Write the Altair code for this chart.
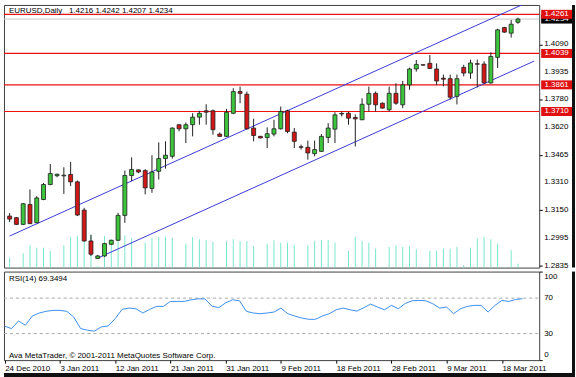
import altair as alt
import pandas as pd

# ---------------- data ----------------
opens = [1.3117,1.3108,1.3070,1.3183,1.3079,1.3211,1.3296,1.3346,1.3345,1.3353,
         1.3311,1.3151,1.2976,1.2877,1.2891,1.2957,1.2980,1.3121,1.3347,1.3379,
         1.3375,1.3274,1.3371,1.3443,1.3456,1.3635,1.3612,1.3635,1.3678,1.3714,
         1.3714,1.3582,1.3569,1.3700,1.3823,1.3808,1.3616,1.3569,1.3563,1.3582,
         1.3612,1.3714,1.3593,1.3510,1.3507,1.3471,1.3484,1.3563,1.3610,1.3699,
         1.3700,1.3676,1.3663,1.3751,1.3813,1.3757,1.3720,1.3813,1.3748,1.3861,
         1.3951,1.3975,1.3983,1.3951,1.3899,1.3896,1.3796,1.3960,1.3928,1.3981,
         1.3979,1.3872,1.4017,1.4186,1.4154,1.4216]
highs = [1.3134,1.3112,1.3191,1.3268,1.3230,1.3305,1.3412,1.3358,1.3394,1.3424,
         1.3319,1.3164,1.3010,1.2897,1.2965,1.2982,1.3136,1.3375,1.3450,1.3381,
         1.3383,1.3462,1.3535,1.3541,1.3620,1.3637,1.3648,1.3700,1.3714,1.3751,
         1.3721,1.3591,1.3725,1.3842,1.3851,1.3823,1.3669,1.3572,1.3620,1.3663,
         1.3738,1.3720,1.3616,1.3522,1.3545,1.3545,1.3582,1.3644,1.3706,1.3710,
         1.3707,1.3693,1.3785,1.3851,1.3823,1.3761,1.3851,1.3870,1.3883,1.3958,
         1.4002,1.3978,1.4030,1.3983,1.3919,1.3919,1.3919,1.3975,1.4004,1.4004,
         1.3994,1.4045,1.4179,1.4190,1.4229,1.4242]
lows = [1.3083,1.3066,1.3066,1.3072,1.3078,1.3207,1.3292,1.3337,1.3243,1.3287,
        1.3117,1.2972,1.2891,1.2874,1.2886,1.2953,1.2976,1.3079,1.3315,1.3360,
        1.3240,1.3249,1.3324,1.3386,1.3443,1.3597,1.3531,1.3569,1.3635,1.3635,
        1.3578,1.3566,1.3566,1.3695,1.3757,1.3608,1.3541,1.3558,1.3503,1.3569,
        1.3608,1.3587,1.3503,1.3494,1.3437,1.3456,1.3481,1.3531,1.3531,1.3682,
        1.3635,1.3512,1.3662,1.3710,1.3710,1.3727,1.3710,1.3748,1.3729,1.3833,
        1.3936,1.3970,1.3953,1.3861,1.3853,1.3778,1.3750,1.3909,1.3896,1.3847,
        1.3868,1.3868,1.3957,1.4156,1.4129,1.4207]
closes = [1.3100,1.3070,1.3187,1.3074,1.3220,1.3296,1.3358,1.3354,1.3349,1.3311,
          1.3123,1.2976,1.2901,1.2891,1.2961,1.2980,1.3121,1.3347,1.3381,1.3367,
          1.3277,1.3367,1.3443,1.3462,1.3616,1.3612,1.3635,1.3678,1.3700,1.3706,
          1.3607,1.3569,1.3706,1.3823,1.3813,1.3612,1.3574,1.3560,1.3584,1.3612,
          1.3710,1.3597,1.3541,1.3507,1.3475,1.3494,1.3569,1.3616,1.3691,1.3696,
          1.3672,1.3668,1.3751,1.3813,1.3748,1.3729,1.3813,1.3757,1.3861,1.3951,
          1.3977,1.3973,1.3954,1.3883,1.3893,1.3791,1.3896,1.3928,1.3985,1.3978,
          1.3872,1.4022,1.4173,1.4160,1.4205,1.4234]
volumes = [10000,500,14400,22400,20000,20000,16700,500,22400,30700,
           31700,30000,33400,1500,31700,28400,26700,32400,30000,500,
           25000,30000,31000,30700,30000,500,24000,30700,28400,27700,
           26000,500,26700,28400,26700,26700,21700,500,24000,27400,
           25000,25000,22400,500,22400,26700,27700,27700,25000,500,
           16700,30700,26700,25000,19000,500,20700,22400,20700,21700,
           18400,500,16700,16700,19000,19000,20700,2700,20000,29400,
           31000,28400,24000,500,17400,4000]
rsi_vals = [38.3,35.6,44.2,39.4,49.8,53.2,55.1,56.2,56.2,55.1,
            48.7,35.6,33.8,32.7,37.5,38.6,46.8,57.3,58.8,58.0,
            53.2,57.3,60.7,60.7,66.3,66.3,66.3,68.1,69.2,69.2,
            61.0,59.2,64.7,68.1,67.0,55.1,53.2,52.4,53.2,54.3,
            58.8,52.4,49.8,47.6,46.1,46.1,49.8,52.4,56.9,58.8,
            56.9,55.4,59.2,63.3,59.9,56.9,61.8,58.0,64.0,67.0,
            67.4,67.0,63.6,58.8,59.9,52.4,58.0,60.7,61.8,61.8,
            54.3,61.8,67.4,66.3,68.5,69.35]

level_prices = [1.4261, 1.4039, 1.3861, 1.3710]
last_price = [1.4234]
price_ticks = [1.4090, 1.3935, 1.3780, 1.3620, 1.3465, 1.3310, 1.3150, 1.2995, 1.2835]
date_idx = [0, 8, 16, 24, 32, 40, 48, 56, 64, 72]
date_labels = ["24 Dec 2010", "3 Jan 2011", "12 Jan 2011", "21 Jan 2011", "31 Jan 2011",
               "9 Feb 2011", "18 Feb 2011", "28 Feb 2011", "9 Mar 2011", "18 Mar 2011"]
channel_name = ["upper", "upper", "lower", "lower"]
channel_idx = [0, 77.4, 13, 77.4]
channel_price = [1.3004, 1.4346, 1.2879, 1.3996]
rsi_levels = [30, 70]
rsi_ticks = [0, 30, 70, 100]
rsi_top_label = ["100"]
rsi_bottom_label = ["0"]
title_text = ["EURUSD,Daily\u00a0\u00a0 1.4216 1.4242 1.4207 1.4234"]
rsi_text = ["RSI(14) 69.3494"]
credit_text = ["Ava MetaTrader, \u00a9 2001-2011 MetaQuotes Software Corp."]

# ---------------- layout ----------------
W = 538
H_MAIN = 264
H_RSI = 89
FONT = "Liberation Sans"
FS = 8
LBL_X = W + 5

n = len(opens)
df = pd.DataFrame({"i": list(range(n)), "open": opens, "high": highs, "low": lows,
                   "close": closes, "vol": volumes, "rsi": rsi_vals})
df["dir"] = ["up" if c >= o else "down" for o, c in zip(opens, closes)]

xs = alt.Scale(domain=[-0.1, 77.4], nice=False, zero=False)
ys = alt.Scale(domain=[1.2825, 1.4314], nice=False, zero=False)

price_axis = alt.Axis(orient="right", values=price_ticks, title=None, labels=False,
                      tickSize=3, tickColor="black", domain=False, grid=False)

X = alt.X("i:Q", scale=xs, axis=None)

vol_layer = alt.Chart(df).mark_rule(color="#78e6cc", strokeWidth=1).encode(
    x=X,
    y=alt.Y("vol:Q", scale=alt.Scale(domain=[0, 264000], nice=False), axis=None),
    y2=alt.datum(0),
)

lev_df = pd.DataFrame({"p": level_prices, "k": list(range(len(level_prices)))})
last_df = pd.DataFrame({"p": last_price})
ch_df = pd.DataFrame({"name": channel_name, "i": channel_idx, "p": channel_price})
pt_df = pd.DataFrame({"p": price_ticks})

last_line = alt.Chart(last_df).mark_rule(color="#c8c8c8", strokeWidth=1).encode(
    y=alt.Y("p:Q", scale=ys, axis=price_axis), x=alt.value(0), x2=alt.value(W))
level_lines = alt.Chart(lev_df).mark_rule(color="#ee1111", strokeWidth=1.2, opacity=1).encode(
    y=alt.Y("p:Q", scale=ys), x=alt.value(0), x2=alt.value(W), detail="k:N")
channels = alt.Chart(ch_df).mark_line(color="#3a3ad8", strokeWidth=1, clip=True).encode(
    x=X, y=alt.Y("p:Q", scale=ys), detail="name:N")
wicks = alt.Chart(df).mark_rule(color="#202020", strokeWidth=1).encode(
    x=X, y=alt.Y("low:Q", scale=ys), y2="high:Q")
bodies = alt.Chart(df).mark_bar(width=4, stroke="#202020", strokeWidth=0.8).encode(
    x=X, y=alt.Y("open:Q", scale=ys), y2="close:Q",
    fill=alt.Fill("dir:N", scale=alt.Scale(domain=["up", "down"], range=["#3cc43c", "#d01818"]),
                  legend=None))

price_labels = alt.Chart(pt_df).mark_text(align="left", baseline="middle", fontSize=FS,
                                          font=FONT, color="black").encode(
    y=alt.Y("p:Q", scale=ys), x=alt.value(LBL_X), text=alt.Text("p:Q", format=".4f"))

box_last = alt.Chart(last_df).mark_tick(orient="horizontal", size=31, thickness=9,
                                        color="#000000", opacity=1).encode(
    y=alt.Y("p:Q", scale=ys), x=alt.value(W + 17.5))
txt_last = alt.Chart(last_df).mark_text(color="white", fontSize=FS, font=FONT,
                                        align="center", baseline="middle").encode(
    y=alt.Y("p:Q", scale=ys), x=alt.value(W + 17.5), text=alt.Text("p:Q", format=".4f"))
box_lev = alt.Chart(lev_df).mark_tick(orient="horizontal", size=31, thickness=9,
                                      color="#e01010", opacity=1).encode(
    y=alt.Y("p:Q", scale=ys), x=alt.value(W + 17.5))
txt_lev = alt.Chart(lev_df).mark_text(color="white", fontSize=FS, font=FONT,
                                      align="center", baseline="middle").encode(
    y=alt.Y("p:Q", scale=ys), x=alt.value(W + 17.5), text=alt.Text("p:Q", format=".4f"))

title_mark = alt.Chart(pd.DataFrame({"t": title_text})).mark_text(
    align="left", baseline="middle", fontSize=FS, font=FONT, color="black").encode(
    x=alt.value(5), y=alt.value(6), text="t:N")

price_layers = alt.layer(last_line, level_lines, channels, wicks, bodies, price_labels,
                         box_last, txt_last, box_lev, txt_lev, title_mark)

# dark window frame along the right edge (main panel part)
frame_main = alt.Chart(pd.DataFrame({"side": ["right-top"]})).mark_rect(color="#101010").encode(
    x=alt.value(W + 33), x2=alt.value(W + 36), y=alt.value(0), y2=alt.value(H_MAIN))

main = alt.layer(vol_layer, price_layers, frame_main).resolve_scale(y="independent").properties(
    width=W, height=H_MAIN)

# ---------------- RSI panel ----------------
label_expr = "[" + ",".join("'" + s + "'" for s in date_labels) + "][round(datum.value/8)]"
x_axis = alt.Axis(values=date_idx, labelExpr=label_expr, title=None, tickSize=3,
                  labelAlign="left", labelBaseline="top", labelPadding=1,
                  labelFlush=False, labelOverlap=False, labelFontSize=FS, labelFont=FONT,
                  labelColor="black", tickColor="black", domain=False, grid=False)
rsi_scale = alt.Scale(domain=[0, 100], nice=False)
rsi_axis = alt.Axis(orient="right", values=rsi_ticks, title=None, labels=False, tickSize=3,
                    tickColor="black", domain=False, grid=False)

rsi_lv = alt.Chart(pd.DataFrame({"lvl": rsi_levels})).mark_rule(
    color="#a8a8a8", strokeDash=[3, 3], strokeWidth=1).encode(
    y=alt.Y("lvl:Q", scale=rsi_scale, axis=rsi_axis), x=alt.value(0), x2=alt.value(W))
rsi_line = alt.Chart(df).mark_line(color="#3b8fef", strokeWidth=1).encode(
    x=alt.X("i:Q", scale=xs, axis=x_axis), y=alt.Y("rsi:Q", scale=rsi_scale))
rsi_label = alt.Chart(pd.DataFrame({"t": rsi_text})).mark_text(
    align="left", baseline="middle", fontSize=FS, font=FONT, color="black").encode(
    x=alt.value(5), y=alt.value(7), text="t:N")
credit = alt.Chart(pd.DataFrame({"t": credit_text})).mark_text(
    align="left", baseline="middle", fontSize=FS, font=FONT, color="black").encode(
    x=alt.value(5), y=alt.value(H_RSI - 4), text="t:N")

rsi_lbl_mid = alt.Chart(pd.DataFrame({"v": rsi_levels})).mark_text(
    align="left", baseline="middle", fontSize=FS, font=FONT, color="black").encode(
    y=alt.Y("v:Q", scale=rsi_scale), x=alt.value(LBL_X), text="v:Q")
rsi_lbl_top = alt.Chart(pd.DataFrame({"t": rsi_top_label})).mark_text(
    align="left", baseline="middle", fontSize=FS, font=FONT, color="black").encode(
    x=alt.value(LBL_X), y=alt.value(5), text="t:N")
rsi_lbl_bot = alt.Chart(pd.DataFrame({"t": rsi_bottom_label})).mark_text(
    align="left", baseline="middle", fontSize=FS, font=FONT, color="black").encode(
    x=alt.value(LBL_X), y=alt.value(H_RSI - 5), text="t:N")

# dark window frame along the right and bottom edges (RSI panel part)
frame_right = alt.Chart(pd.DataFrame({"side": ["right-bottom"]})).mark_rect(color="#101010").encode(
    x=alt.value(W + 33), x2=alt.value(W + 36), y=alt.value(0), y2=alt.value(H_RSI + 18))
frame_bottom = alt.Chart(pd.DataFrame({"side": ["bottom"]})).mark_rect(color="#101010").encode(
    x=alt.value(0), x2=alt.value(W + 36), y=alt.value(H_RSI + 13), y2=alt.value(H_RSI + 18))

rsi_panel = alt.layer(rsi_lv, rsi_line, rsi_label, credit, rsi_lbl_mid, rsi_lbl_top,
                      rsi_lbl_bot, frame_right, frame_bottom).properties(width=W, height=H_RSI)

chart = alt.vconcat(main, rsi_panel, spacing=0).configure(
    padding={"left": 2, "top": 3, "right": 0, "bottom": 0},
    background="white",
).configure_view(stroke="#404040", strokeWidth=1)

chart.save("out.html", embed_options={"renderer": "svg", "actions": False})
